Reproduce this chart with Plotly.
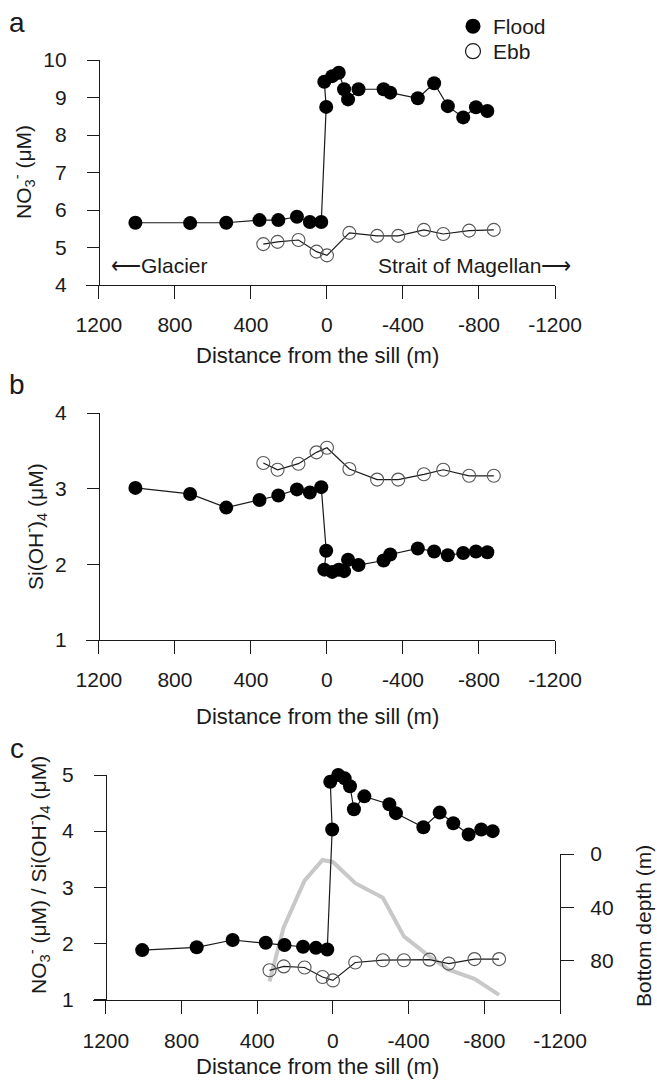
import plotly.graph_objects as go

# distance from the sill (m), positive towards the glacier
flood_dist = [1008, 720, 530, 355, 256, 158, 90, 30, 4, 14, -28, -62, -90, -111,
              -166, -298, -333, -478, -564, -636, -717, -784, -844]
ebb_dist = [335, 260, 150, 55, 0, -118, -264, -375, -510, -612, -748, -878]

# panel a: nitrate (uM)
no3_flood = [5.66, 5.65, 5.66, 5.73, 5.73, 5.82, 5.68, 5.68, 8.75, 9.42, 9.57, 9.66,
             9.22, 8.95, 9.22, 9.22, 9.13, 8.98, 9.38, 8.77, 8.47, 8.74, 8.64]
no3_ebb = [5.09, 5.15, 5.20, 4.89, 4.79, 5.39, 5.31, 5.31, 5.47, 5.36, 5.45, 5.47]

# panel b: silicic acid (uM)
si_flood = [3.01, 2.93, 2.75, 2.85, 2.91, 2.99, 2.95, 3.02, 2.18, 1.93, 1.90, 1.93,
            1.91, 2.06, 1.99, 2.05, 2.13, 2.21, 2.17, 2.12, 2.15, 2.17, 2.16]
si_ebb = [3.34, 3.25, 3.33, 3.48, 3.54, 3.26, 3.12, 3.12, 3.19, 3.25, 3.17, 3.17]

# panel c: NO3 / Si ratio and bottom depth (m) at the ebb stations
ratio_flood = [1.88, 1.93, 2.06, 2.01, 1.97, 1.94, 1.92, 1.89, 4.03, 4.88, 5.00, 4.94,
               4.80, 4.39, 4.62, 4.48, 4.32, 4.07, 4.33, 4.14, 3.94, 4.03, 4.00]
ratio_ebb = [1.52, 1.59, 1.57, 1.40, 1.34, 1.66, 1.70, 1.70, 1.71, 1.64, 1.72, 1.72]
bottom_depth = [96, 55, 20, 4.5, 6, 22, 33, 62, 77, 87, 94, 106]

x_tick_vals = [1200, 800, 400, 0, -400, -800, -1200]
x_tick_text = ['1200', '800', '400', '0', '-400', '-800', '-1200']
depth_tick_vals = [0, 40, 80]

W, H = 657, 1082
FONT = 'Liberation Sans, Arial, sans-serif'
INK = '#1a1a1a'
EBB = '#555555'


def fx(p):
    return p / W


def fy(p):
    return 1 - p / H


def add_pair(fig, xa, ya, flood_vals, ebb_vals):
    fig.add_trace(go.Scatter(x=ebb_dist, y=ebb_vals, xaxis=xa, yaxis=ya,
                             mode='lines+markers', cliponaxis=False, showlegend=False,
                             line=dict(color=INK, width=1.2),
                             marker=dict(symbol='circle-open', size=13, color=EBB,
                                         line=dict(color=EBB, width=1.1))))
    fig.add_trace(go.Scatter(x=flood_dist, y=flood_vals, xaxis=xa, yaxis=ya,
                             mode='lines+markers', cliponaxis=False, showlegend=False,
                             line=dict(color=INK, width=1.2),
                             marker=dict(symbol='circle', size=14, color='black')))


fig = go.Figure()
add_pair(fig, 'x', 'y', no3_flood, no3_ebb)
add_pair(fig, 'x2', 'y2', si_flood, si_ebb)
fig.add_trace(go.Scatter(x=ebb_dist, y=bottom_depth, xaxis='x3', yaxis='y3',
                         mode='lines', showlegend=False,
                         line=dict(color='#c8c8c8', width=4)))
add_pair(fig, 'x4', 'y4', ratio_flood, ratio_ebb)

# legend entries (markers only), one small legend each
fig.add_trace(go.Scatter(x=[None], y=[None], mode='markers', name='Flood',
                         legend='legend',
                         marker=dict(symbol='circle', size=15, color='black')))
fig.add_trace(go.Scatter(x=[None], y=[None], mode='markers', name='Ebb',
                         legend='legend2',
                         marker=dict(symbol='circle-open', size=15, color=INK,
                                     line=dict(color=INK, width=1.2))))

axis_style = dict(showline=True, linecolor=INK, linewidth=1.3, ticks='outside',
                  tickcolor=INK, tickwidth=1.3, showgrid=False, zeroline=False,
                  automargin=False, tickfont=dict(family=FONT, size=21, color=INK))
x_style = dict(axis_style, range=[1268, -1200], tickvals=x_tick_vals,
               ticktext=x_tick_text, ticklen=13, ticklabelstandoff=8)
y_style = dict(axis_style, ticklen=12, dtick=1, anchor='free', ticklabelstandoff=16)
legend_style = dict(xanchor='left', yanchor='top', bgcolor='rgba(0,0,0,0)',
                    font=dict(family=FONT, size=21, color=INK), itemclick=False)

fig.update_layout(
    width=W, height=H,
    margin=dict(l=0, r=0, t=0, b=0, autoexpand=False),
    paper_bgcolor='white', plot_bgcolor='rgba(0,0,0,0)',
    font=dict(family=FONT, size=21, color=INK),
    xaxis=dict(x_style, domain=[fx(86), fx(555)], anchor='y'),
    yaxis=dict(y_style, domain=[fy(285), fy(60)], range=[4, 10], position=fx(99)),
    xaxis2=dict(x_style, domain=[fx(86), fx(555)], anchor='y2'),
    yaxis2=dict(y_style, domain=[fy(640), fy(413)], range=[1, 4], position=fx(99)),
    xaxis3=dict(x_style, domain=[fx(93), fx(560)], anchor='y3', ticklabelstandoff=9),
    yaxis3=dict(axis_style, domain=[fy(999.5), fy(854)], range=[109.5, 0],
                tickvals=depth_tick_vals, ticklen=13, side='right', anchor='x3',
                ticklabelstandoff=12),
    xaxis4=dict(domain=[fx(93), fx(560)], range=[1268, -1200], visible=False,
                anchor='y4', automargin=False),
    yaxis4=dict(y_style, domain=[fy(999.5), fy(775)], range=[1, 5], position=fx(106)),
    legend=dict(legend_style, x=fx(453), y=fy(6)),
    legend2=dict(legend_style, x=fx(453), y=fy(31)),
)

xt = 'Distance from the sill (m)'
notes = [
    dict(text='a', x=17, y=22, size=28),
    dict(text='b', x=17, y=385, size=28),
    dict(text='c', x=17, y=748, size=28),
    dict(text=xt, x=317, y=355, size=22),
    dict(text=xt, x=317, y=716, size=22),
    dict(text=xt, x=317, y=1066, size=22),
    dict(text='NO<sub>3</sub><sup>-</sup> (μM)', x=23, y=172, angle=-90),
    dict(text='Si(OH<sup>-</sup>)<sub>4</sub> (μM)', x=35, y=527, angle=-90),
    dict(text='NO<sub>3</sub><sup>-</sup> (μM) / Si(OH<sup>-</sup>)<sub>4</sub> (μM)',
         x=38, y=875, angle=-90),
    dict(text='Bottom depth (m)', x=643, y=926, angle=-90),
]
for n in notes:
    fig.add_annotation(text=n['text'], x=fx(n['x']), y=fy(n['y']),
                       xref='paper', yref='paper', xanchor='center', yanchor='middle',
                       showarrow=False, textangle=n.get('angle', 0),
                       font=dict(family=FONT, size=n.get('size', 21), color=INK))

fig.add_annotation(text='⟵Glacier', x=1145, y=4.51, xref='x', yref='y',
                   xanchor='left', yanchor='middle', showarrow=False,
                   font=dict(size=21, color=INK))
fig.add_annotation(text='Strait of Magellan⟶', x=-1200, y=4.51, xref='x', yref='y',
                   xanchor='right', yanchor='middle', xshift=18, showarrow=False,
                   font=dict(size=21, color=INK))

# drop the page's default body margin so the figure fills the window exactly
fig.write_html("out.html", config={'displayModeBar': False},
               post_script="document.body.style.margin = '0';")
